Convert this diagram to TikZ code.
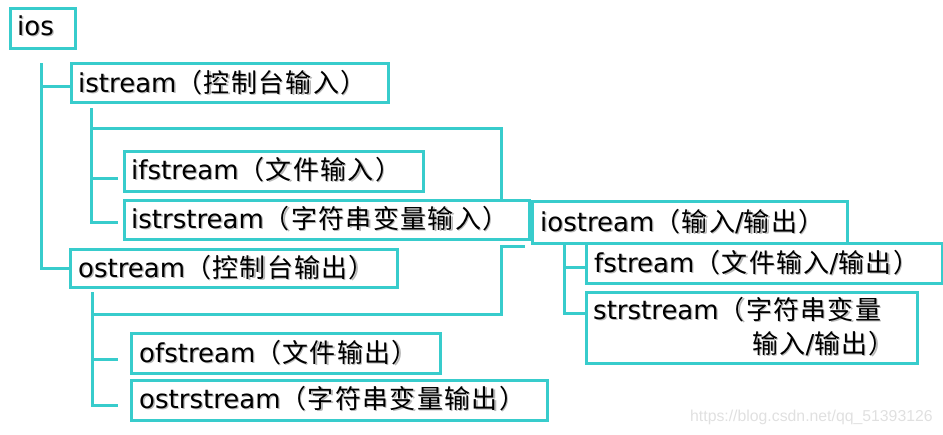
\documentclass[tikz,border=0pt]{standalone}
\usepackage{fontspec}
\setmainfont{DejaVu Sans}
\newfontfamily\cjk[LetterSpace=5]{Noto Sans CJK SC}
\usetikzlibrary{calc}
\definecolor{tealline}{RGB}{56,204,204}
\newcommand\shd[1]{\makebox[0pt][l]{\kern1.3pt\raisebox{-1.3pt}{\textcolor{black!28}{#1}}}#1}
\begin{document}
\begin{tikzpicture}[x=1pt,y=-1pt,
  box/.style={draw=tealline,line width=3pt,inner sep=0pt,anchor=north west},
  lbl/.style={anchor=base west,inner sep=0pt,font=\fontsize{26}{30}\selectfont},
  conn/.style={draw=tealline,line width=3pt},
  wm/.style={anchor=base west,inner sep=0pt,text=black!12,font=\fontspec{Liberation Sans}\fontsize{15.8}{18}\selectfont}]
\path[use as bounding box] (0,0) rectangle (943,434);
% boxes
\node[box,minimum width=65pt,minimum height=40pt] (ios) at (8.5,6.5) {};
\node[box,minimum width=317pt,minimum height=39pt] (istream) at (69.5,61.5) {};
\node[box,minimum width=299pt,minimum height=40pt] (ifstream) at (122.5,149.5) {};
\node[box,minimum width=405pt,minimum height=39pt] (istrstream) at (122.5,198.5) {};
\node[box,minimum width=327pt,minimum height=38pt] (ostream) at (68.5,247.5) {};
\node[box,minimum width=309pt,minimum height=40pt] (ofstream) at (129.5,331.5) {};
\node[box,minimum width=416pt,minimum height=40pt] (ostrstream) at (129.5,378.5) {};
\node[box,minimum width=315pt,minimum height=42pt] (iostream) at (531,199.5) {};
\node[box,minimum width=356pt,minimum height=40pt] (fstream) at (584.5,241.5) {};
\node[box,minimum width=331pt,minimum height=71pt] (strstream) at (584.5,290.5) {};
% texts
\node[lbl] (ios-t) at (17,35) {\shd{ios}};
\node[lbl] (istream-t) at (78,92) {\shd{istream{\cjk （控制台输入）}}};
\node[lbl] (ifstream-t) at (131,179) {\shd{ifstream{\cjk （文件输入）}}};
\node[lbl] (istrstream-t) at (131,228) {\shd{istrstream{\cjk （字符串变量输入）}}};
\node[lbl] (ostream-t) at (78,277) {\shd{ostream{\cjk （控制台输出）}}};
\node[lbl] (ofstream-t) at (139,362) {\shd{ofstream{\cjk （文件输出）}}};
\node[lbl] (ostrstream-t) at (139,408) {\shd{ostrstream{\cjk （字符串变量输出）}}};
\node[lbl] (iostream-t) at (540,231) {\shd{iostream{\cjk （输入}/{\cjk 输出）}}};
\node[lbl] (fstream-t) at (594,272) {\shd{fstream{\cjk （文件输入}/{\cjk 输出）}}};
\node[lbl] (strstream-t) at (593,319) {\shd{strstream{\cjk （字符串变量}}};
\node[lbl] (strstream-t2) at (752,353) {\shd{{\cjk 输入}/{\cjk 输出）}}};
\node[wm] (wm) at (690,421) {https://blog.csdn.net/qq\_51393126};
% connector helper coordinates
\coordinate (iosTop) at (41,63);
\coordinate (iosB1) at (41,86);
\coordinate (isTop) at (91,108);
\coordinate (isB1) at (91,178);
\coordinate (isB2) at (91,222);
\coordinate (isIO) at (91,128);
\coordinate (isIOend) at (501,198.5);
\coordinate (osTop) at (92,292);
\coordinate (osB1) at (92,359);
\coordinate (osB2) at (92,405);
\coordinate (osIO) at (92,314);
\coordinate (osIOcorner) at (501,246);
\coordinate (osIOend) at (525,246);
\coordinate (ioTop) at (564,244);
\coordinate (ioB1) at (564,267);
\coordinate (ioB2) at (564,313);
% connectors
\draw[conn] (iosTop) |- (ostream.west);
\draw[conn] (iosB1) -- (iosB1 -| istream.west);
\draw[conn] (isTop) |- ($(isB2 -| istrstream.west)+(-5,0)$);
\draw[conn] (isB1) -- ($(isB1 -| ifstream.west)+(-5,0)$);
\draw[conn] (isIO) -| (isIOend);
\draw[conn] (osTop) |- ($(osB2 -| ostrstream.west)+(-12,0)$);
\draw[conn] (osB1) -- ($(osB1 -| ofstream.west)+(-12,0)$);
\draw[conn] (osIO) -| (osIOcorner) -- (osIOend);
\draw[conn] (ioTop) |- (ioB2 -| strstream.west);
\draw[conn] (ioB1) -- (ioB1 -| fstream.west);
\end{tikzpicture}
\end{document}
